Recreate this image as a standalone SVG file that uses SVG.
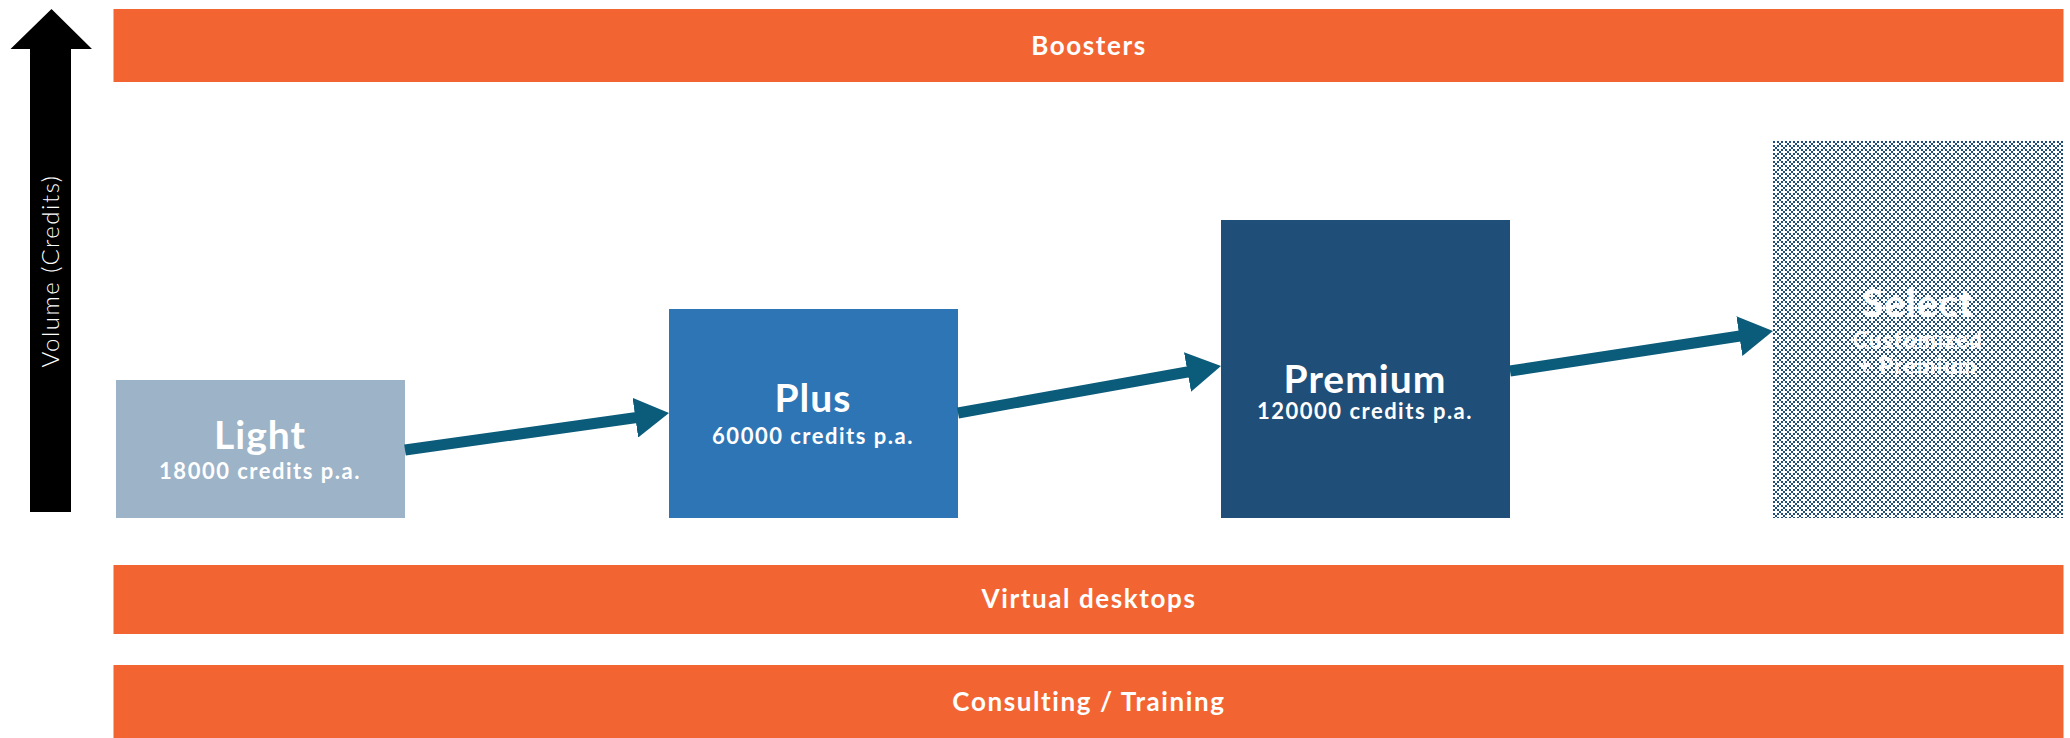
<svg xmlns="http://www.w3.org/2000/svg" width="2070" height="738" viewBox="0 0 2070 738">
<style>
.bar{fill:#f26533}
.bt{font-family:Lato,"Open Sans",sans-serif;font-weight:700;font-size:26px;letter-spacing:1.6px;fill:#fff;text-anchor:middle}
.t1{font-family:Lato,"Open Sans",sans-serif;font-weight:700;font-size:39px;letter-spacing:1px;fill:#fff;text-anchor:middle}
.t2{font-family:Lato,"Open Sans",sans-serif;font-weight:700;font-size:22px;letter-spacing:1.5px;fill:#fff;text-anchor:middle}
.conn{fill:none;stroke:#0b5b7a;stroke-width:11}
</style>
<defs>
<marker id="ah" markerUnits="userSpaceOnUse" viewBox="0 0 34 40" refX="14" refY="20" markerWidth="34" markerHeight="40" orient="auto">
<path d="M0,0 L34,20 L0,40 z" fill="#0b5b7a"/>
</marker>
<pattern id="cross" patternUnits="userSpaceOnUse" width="8" height="8">
<rect width="8" height="8" fill="#1f4e79"/>
<rect x="3" y="1" width="2" height="6" fill="#fff"/>
<rect x="1" y="3" width="6" height="2" fill="#fff"/>
<rect x="-1" y="-3" width="2" height="6" fill="#fff"/>
<rect x="-3" y="-1" width="6" height="2" fill="#fff"/>
<rect x="7" y="-3" width="2" height="6" fill="#fff"/>
<rect x="5" y="-1" width="6" height="2" fill="#fff"/>
<rect x="-1" y="5" width="2" height="6" fill="#fff"/>
<rect x="-3" y="7" width="6" height="2" fill="#fff"/>
<rect x="7" y="5" width="2" height="6" fill="#fff"/>
<rect x="5" y="7" width="6" height="2" fill="#fff"/>
</pattern>
</defs>
<rect width="2070" height="738" fill="#fff"/>
<g id="axis">
<polygon points="30,512 30,49 10.5,49 51.5,9 92,49 71,49 71,512" fill="#000"/>
<text transform="translate(59,271) rotate(-90)" font-family="Lato,'Open Sans',sans-serif" font-weight="300" font-size="24" letter-spacing="1.5" fill="#fff" text-anchor="middle">Volume (Credits)</text>
</g>
<g id="boosters">
<rect class="bar" x="113.5" y="9" width="1950" height="73"/>
<text class="bt" x="1089" y="55">Boosters</text>
</g>
<g id="virtual-desktops">
<rect class="bar" x="113.5" y="565" width="1950" height="69"/>
<text class="bt" x="1089" y="608">Virtual desktops</text>
</g>
<g id="consulting">
<rect class="bar" x="113.5" y="665" width="1950" height="73"/>
<text class="bt" x="1089" y="711">Consulting / Training</text>
</g>
<g id="light">
<rect x="116" y="380" width="289" height="138" fill="#9db3c7"/>
<text class="t1" x="260" y="449">Light</text>
<text class="t2" x="260" y="479">18000 credits p.a.</text>
</g>
<g id="plus">
<rect x="669" y="309" width="289" height="209" fill="#2e75b5"/>
<text class="t1" x="813" y="412">Plus</text>
<text class="t2" x="813" y="444">60000 credits p.a.</text>
</g>
<g id="premium">
<rect x="1221" y="220" width="289" height="298" fill="#1f4e79"/>
<text class="t1" x="1365" y="393">Premium</text>
<text class="t2" x="1365" y="419">120000 credits p.a.</text>
</g>
<g id="select">
<rect x="1773" y="141" width="290" height="377" fill="url(#cross)"/>
<text class="t1" x="1918" y="317">Select</text>
<text class="t2" x="1918" y="348">Customized</text>
<text class="t2" x="1918" y="374">+ Premium</text>
</g>
<g id="connectors">
<path class="conn" d="M405,450 L649.2,415.8" marker-end="url(#ah)"/>
<path class="conn" d="M958,413 L1201.3,369.5" marker-end="url(#ah)"/>
<path class="conn" d="M1510,371 L1753.2,334" marker-end="url(#ah)"/>
</g>
</svg>
